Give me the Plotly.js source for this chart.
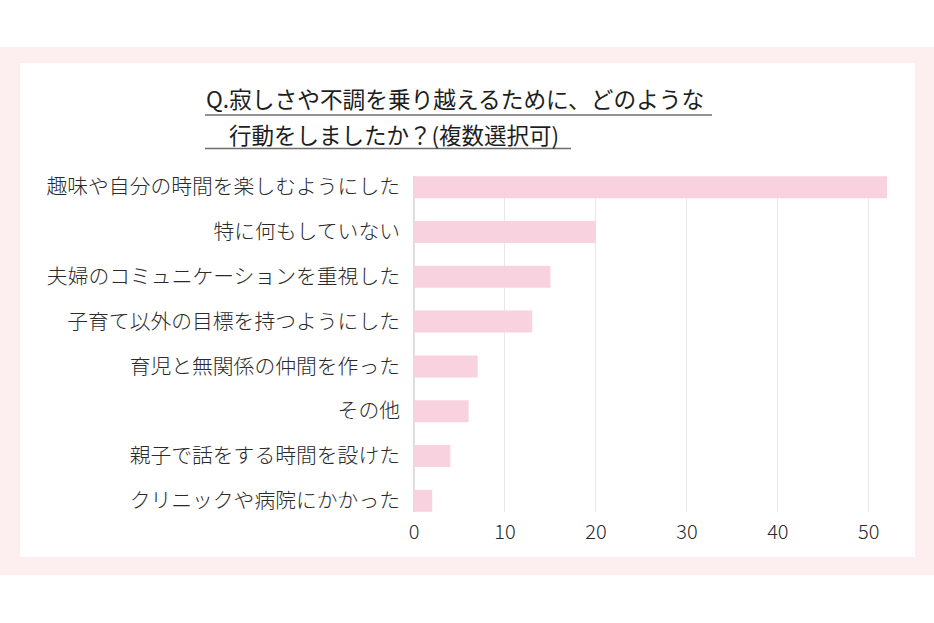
<!DOCTYPE html>
<html>
<head>
<meta charset="utf-8">
<script src="https://cdn.plot.ly/plotly-3.0.1.min.js"></script>
<style>html,body{margin:0;padding:0;background:#fff;}#chart{width:934px;height:623px;}</style>
</head>
<body>
<div id="chart"></div>
<script>
const categories = [
  "趣味や自分の時間を楽しむようにした",
  "特に何もしていない",
  "夫婦のコミュニケーションを重視した",
  "子育て以外の目標を持つようにした",
  "育児と無関係の仲間を作った",
  "その他",
  "親子で話をする時間を設けた",
  "クリニックや病院にかかった"
];
const values = [52, 20, 15, 13, 7, 6, 4, 2];
const titleLine1 = "Q.寂しさや不調を乗り越えるために、どのような";
const titleLine2 = "行動をしましたか？(複数選択可)";
const xTicks = [0, 10, 20, 30, 40, 50];

const W = 934, H = 623;
const M = {l: 414, r: 47, t: 176, b: 111};
const PW = W - M.l - M.r, PH = H - M.t - M.b;
const px = x => (x - M.l) / PW;
const py = y => (H - M.b - y) / PH;

const FONT = '"Noto Sans CJK JP", "Noto Sans", sans-serif';
const pinkFrame = '#fdeff0';

const shapes = [
  {type:'rect', xref:'paper', yref:'paper', x0:px(0), x1:px(934), y0:py(47), y1:py(575),
   fillcolor:pinkFrame, line:{width:0}, layer:'below'},
  {type:'rect', xref:'paper', yref:'paper', x0:px(20), x1:px(915), y0:py(63), y1:py(557),
   fillcolor:'#ffffff', line:{width:0}, layer:'below'},
  {type:'line', xref:'paper', yref:'paper', x0:px(205), x1:px(712), y0:py(115), y1:py(115),
   line:{color:'#6e6e6e', width:1.3}},
  {type:'line', xref:'paper', yref:'paper', x0:px(205), x1:px(571), y0:py(148.5), y1:py(148.5),
   line:{color:'#6e6e6e', width:1.3}}
];

const annotations = [
  {text:titleLine1, xref:'paper', yref:'paper', x:px(204), y:py(99), xanchor:'left', yanchor:'middle',
   showarrow:false, font:{family:FONT, size:22.7, color:'#1e1e1e'}},
  {text:titleLine2, xref:'paper', yref:'paper', x:px(227), y:py(134), xanchor:'left', yanchor:'middle',
   showarrow:false, font:{family:FONT, size:22.5, color:'#1e1e1e'}}
];

const trace = {
  type:'bar', orientation:'h',
  x: values, y: categories,
  width: 0.49,
  marker:{color:'#f8d3df', line:{width:0}},
  hoverinfo:'none'
};

const layout = {
  width: W, height: H,
  margin: M,
  paper_bgcolor:'#ffffff',
  plot_bgcolor:'rgba(0,0,0,0)',
  showlegend:false,
  font:{family:FONT, color:'#2a2a2a'},
  xaxis:{
    range:[0, 52], tickvals:xTicks, ticktext:xTicks.map(String),
    showgrid:true, gridcolor:'#e8e8e8', gridwidth:1,
    zeroline:true, zerolinecolor:'#dedede', zerolinewidth:1.2,
    showline:false, ticks:'', ticklabelstandoff: 6,
    tickfont:{family:FONT, size:20, color:'#2a2a2a', weight:300},
    fixedrange:true
  },
  yaxis:{
    type:'category', range:[7.25, -0.25],
    showgrid:false, zeroline:false, showline:false, ticks:'',
    ticklabelstandoff: 13,
    tickfont:{family:FONT, size:20.8, color:'#2a2a2a', weight:300},
    fixedrange:true
  },
  shapes: shapes,
  annotations: annotations
};

Plotly.newPlot('chart', [trace], layout, {displayModeBar:false, staticPlot:true});
</script>
</body>
</html>
